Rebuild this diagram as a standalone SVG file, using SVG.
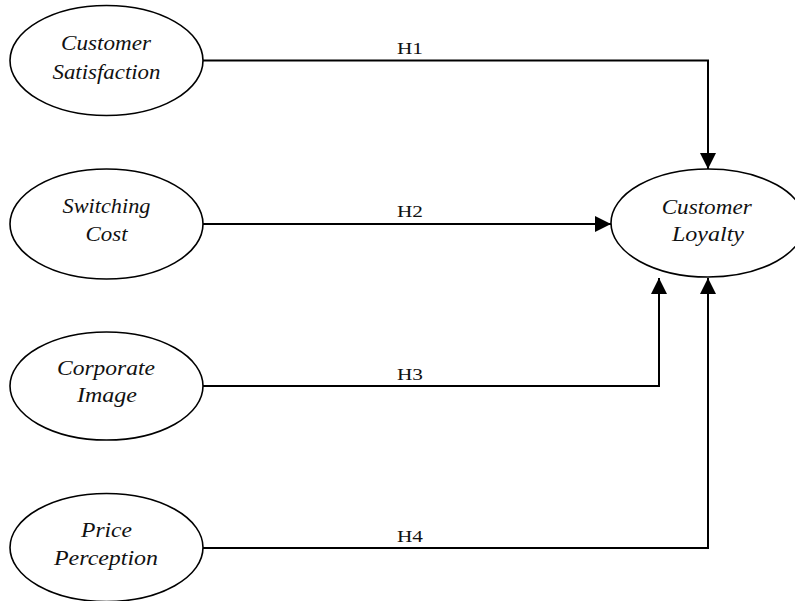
<svg xmlns="http://www.w3.org/2000/svg" width="795" height="601" viewBox="0 0 795 601">
<style>
.node ellipse{fill:#fff;stroke:#000;stroke-width:1.6}
.node text{font-family:"Liberation Serif","Times New Roman",serif;font-style:italic;font-size:21px;fill:#111;text-anchor:middle}
.conn path{fill:none;stroke:#000;stroke-width:2}
.lbl{font-family:"Liberation Serif","Times New Roman",serif;font-size:17.5px;fill:#111;text-anchor:middle}
</style>
<defs>
<marker id="arr" markerUnits="userSpaceOnUse" markerWidth="16" markerHeight="16" refX="16" refY="8" orient="auto">
<path d="M0,0 L16,8 L0,16 z" fill="#000"/>
</marker>
</defs>
<rect width="795" height="601" fill="#fff"/>
<g class="conn" id="connectors">
<path d="M203,60.5 H708 V169" marker-end="url(#arr)"/>
<path d="M203,224 H611" marker-end="url(#arr)"/>
<path d="M203,386 H659 V278" marker-end="url(#arr)"/>
<path d="M203,548 H708 V278" marker-end="url(#arr)"/>
<text class="lbl" x="410" y="54" textLength="26" lengthAdjust="spacingAndGlyphs">H1</text>
<text class="lbl" x="410" y="217" textLength="26" lengthAdjust="spacingAndGlyphs">H2</text>
<text class="lbl" x="410" y="380" textLength="26" lengthAdjust="spacingAndGlyphs">H3</text>
<text class="lbl" x="410" y="542" textLength="26" lengthAdjust="spacingAndGlyphs">H4</text>
</g>
<g class="node" id="satisfaction">
<ellipse cx="106.5" cy="60.5" rx="96.5" ry="55"/>
<text x="106" y="49.5" textLength="90" lengthAdjust="spacingAndGlyphs">Customer</text>
<text x="106.5" y="78.5" textLength="108" lengthAdjust="spacingAndGlyphs">Satisfaction</text>
</g>
<g class="node" id="switching">
<ellipse cx="106.5" cy="224" rx="96.5" ry="55"/>
<text x="106.5" y="213" textLength="88" lengthAdjust="spacingAndGlyphs">Switching</text>
<text x="106.5" y="241" textLength="42" lengthAdjust="spacingAndGlyphs">Cost</text>
</g>
<g class="node" id="corporate">
<ellipse cx="106.5" cy="386" rx="96.5" ry="54"/>
<text x="106" y="375" textLength="98" lengthAdjust="spacingAndGlyphs">Corporate</text>
<text x="107" y="402" textLength="60" lengthAdjust="spacingAndGlyphs">Image</text>
</g>
<g class="node" id="price">
<ellipse cx="106.5" cy="547.5" rx="96.5" ry="54"/>
<text x="106.5" y="536.5" textLength="51" lengthAdjust="spacingAndGlyphs">Price</text>
<text x="106" y="565" textLength="104" lengthAdjust="spacingAndGlyphs">Perception</text>
</g>
<g class="node" id="loyalty">
<ellipse cx="708" cy="223" rx="97" ry="54"/>
<text x="706.7" y="214" textLength="90" lengthAdjust="spacingAndGlyphs">Customer</text>
<text x="708" y="241" textLength="72" lengthAdjust="spacingAndGlyphs">Loyalty</text>
</g>
</svg>
